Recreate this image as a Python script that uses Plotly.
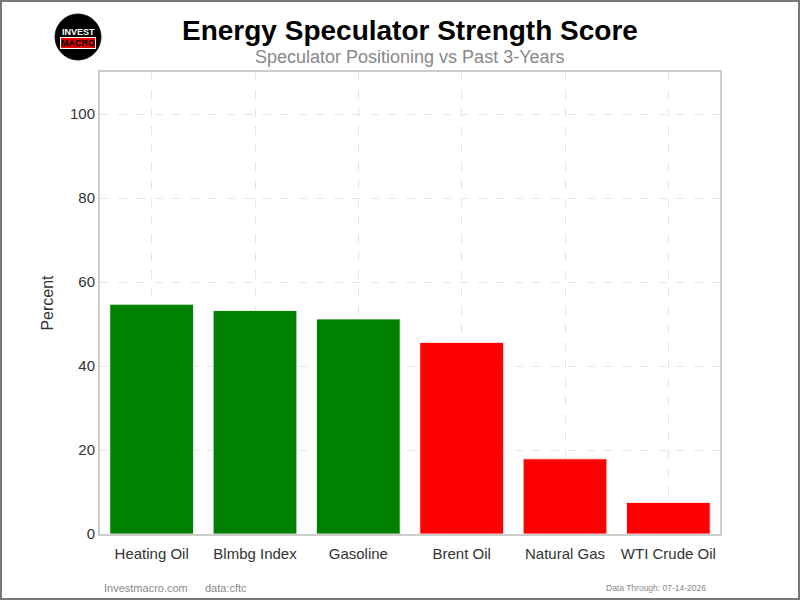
import plotly.graph_objects as go

categories = ["Heating Oil", "Blmbg Index", "Gasoline", "Brent Oil", "Natural Gas", "WTI Crude Oil"]
values = [54.7, 53.2, 51.2, 45.6, 17.9, 7.5]
colors = ["green", "green", "green", "red", "red", "red"]
y_ticks = [0, 20, 40, 60, 80, 100]

W, H = 800, 600
L, R, T, B = 100, 80, 72, 66
pw, ph = W - L - R, H - T - B

def px(x):
    return (x - L) / pw

def py(y):
    return (H - B - y) / ph

fig = go.Figure(go.Bar(
    x=categories, y=values,
    marker=dict(color=colors, line=dict(color="rgba(255,255,255,0.8)", width=1)),
    width=0.81,
))

fig.update_layout(
    width=W, height=H,
    margin=dict(l=L, r=R, t=T, b=B),
    paper_bgcolor="white", plot_bgcolor="white",
    font=dict(family="Arial, Liberation Sans, sans-serif", color="#333"),
    showlegend=False,
    xaxis=dict(showgrid=True, gridcolor="#e6e6e6", griddash="dash", gridwidth=1,
               showline=True, linecolor="#cccccc", linewidth=2, mirror=True,
               tickfont=dict(size=15, color="#333"), ticks="", ticklabelstandoff=5),
    yaxis=dict(range=[0, 110], tickvals=y_ticks, showgrid=True, gridcolor="#e6e6e6",
               griddash="dash", gridwidth=1, showline=True, linecolor="#cccccc",
               linewidth=2, mirror=True, zeroline=False,
               tickfont=dict(size=15, color="#333"), ticks="",
               title=dict(text="Percent", font=dict(size=16, color="#333"), standoff=12)),
    shapes=[
        dict(type="rect", xref="paper", yref="paper",
             x0=px(1), x1=px(W - 1), y0=py(H - 1), y1=py(1),
             line=dict(color="#777777", width=2), fillcolor="rgba(0,0,0,0)", layer="above"),
        dict(type="circle", xref="paper", yref="paper",
             x0=px(55), x1=px(101), y0=py(60), y1=py(14),
             line=dict(color="#111", width=1), fillcolor="black"),
    ],
    annotations=[
        dict(text="<b>Energy Speculator Strength Score</b>", xref="paper", yref="paper",
             x=px(410), y=py(30), xanchor="center", yanchor="middle", showarrow=False,
             font=dict(size=28, color="black")),
        dict(text="Speculator Positioning vs Past 3-Years", xref="paper", yref="paper",
             x=px(410), y=py(57), xanchor="center", yanchor="middle", showarrow=False,
             font=dict(size=18, color="#888888")),
        dict(text="<b>INVEST</b>", xref="paper", yref="paper",
             x=px(78), y=py(32), xanchor="center", yanchor="middle", showarrow=False,
             font=dict(size=9, color="white")),
        dict(text="<b>MACRO</b>", xref="paper", yref="paper",
             x=px(78), y=py(42.5), xanchor="center", yanchor="middle", showarrow=False,
             font=dict(size=9, color="black"), bgcolor="#e00000", borderpad=0,
             bordercolor="white", borderwidth=1),
        dict(text="Investmacro.com", xref="paper", yref="paper",
             x=px(102), y=py(588), xanchor="left", yanchor="middle", showarrow=False,
             font=dict(size=11, color="#888888")),
        dict(text="data:cftc", xref="paper", yref="paper",
             x=px(203), y=py(588), xanchor="left", yanchor="middle", showarrow=False,
             font=dict(size=11, color="#888888")),
        dict(text="Data Through: 07-14-2026", xref="paper", yref="paper",
             x=px(708), y=py(588), xanchor="right", yanchor="middle", showarrow=False,
             font=dict(size=8.5, color="#888888")),
    ],
)

fig.write_html("out.html")
